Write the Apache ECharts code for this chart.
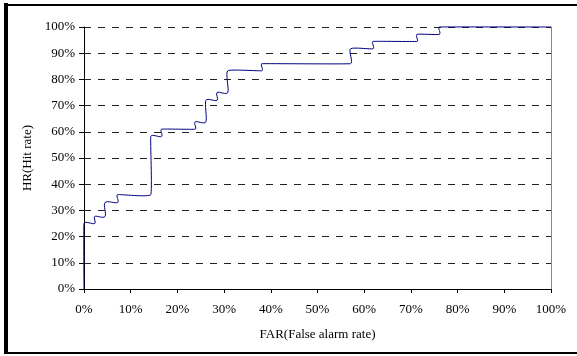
<!DOCTYPE html>
<html>
<head>
<meta charset="utf-8">
<script src="https://cdn.jsdelivr.net/npm/echarts@6/dist/echarts.min.js"></script>
<style>
  html, body { margin: 0; padding: 0; background: #fff; }
  #chart { width: 577px; height: 356px; }
</style>
</head>
<body>
<div id="chart"></div>
<script>
// ROC operating points: false alarm rate (%) and hit rate (%)
const farPoints = [0, 0, 2.3, 4.5, 7.2, 14.3, 16.6, 23.8, 26.1, 28.5, 30.8, 38.1, 57.1, 61.9, 71.3, 76.1, 100];
const hrPoints  = [0, 25, 27.7, 33, 36, 58.2, 61, 63.8, 72, 75, 83.3, 86, 91.7, 94.5, 97.2, 100, 100];

// Axis tick labels
const xTickLabels = ['0%', '10%', '20%', '30%', '40%', '50%', '60%', '70%', '80%', '90%', '100%'];
const yTickLabels = ['0%', '10%', '20%', '30%', '40%', '50%', '60%', '70%', '80%', '90%', '100%'];

// Staircase: hold the hit rate until the next false alarm rate, then rise
const curve = [[farPoints[0], hrPoints[0]]];
for (let i = 1; i < farPoints.length; i++) {
  if (farPoints[i] !== farPoints[i - 1]) curve.push([farPoints[i], hrPoints[i - 1]]);
  if (hrPoints[i] !== hrPoints[i - 1]) curve.push([farPoints[i], hrPoints[i]]);
}

// Smoothed staircase segment: cubic Bezier between neighbouring pixel points,
// tangent follows the chord of the neighbours, kept short so corners stay tight.
function tangentAt(pts, j) {
  const a = pts[Math.max(j - 1, 0)], b = pts[Math.min(j + 1, pts.length - 1)];
  const dx = b[0] - a[0], dy = b[1] - a[1];
  const len = Math.hypot(dx, dy) || 1;
  const p = pts[j];
  const dPrev = j > 0 ? Math.hypot(p[0] - a[0], p[1] - a[1]) : Infinity;
  const dNext = j < pts.length - 1 ? Math.hypot(b[0] - p[0], b[1] - p[1]) : Infinity;
  const reach = Math.min(0.3 * Math.min(dPrev, dNext), 3.2);
  return [dx / len * reach, dy / len * reach];
}

function renderSegment(params, api) {
  const i = params.dataIndex;
  if (i >= curve.length - 1) return null;
  const pts = [];
  for (let j = Math.max(i - 1, 0); j <= Math.min(i + 2, curve.length - 1); j++) pts.push(api.coord(curve[j]));
  const k = i === 0 ? 0 : 1;
  const p0 = pts[k], p1 = pts[k + 1];
  const t0 = tangentAt(pts, k), t1 = tangentAt(pts, k + 1);
  return {
    type: 'bezierCurve',
    shape: {
      x1: p0[0], y1: p0[1], x2: p1[0], y2: p1[1],
      cpx1: p0[0] + t0[0], cpy1: p0[1] + t0[1],
      cpx2: p1[0] - t1[0], cpy2: p1[1] - t1[1]
    },
    style: { stroke: '#000080', lineWidth: 1, fill: null }
  };
}

const serif = '"Liberation Serif", "DejaVu Serif", serif';
const chart = echarts.init(document.getElementById('chart'), null, { renderer: 'canvas' });

chart.setOption({
  animation: false,
  backgroundColor: '#fff',
  grid: { left: 84, right: 26, top: 27, bottom: 67, containLabel: false },
  xAxis: {
    type: 'value', min: 0, max: 100, interval: 10,
    name: 'FAR(False alarm rate)', nameLocation: 'middle', nameGap: 39,
    nameTextStyle: { fontFamily: serif, fontSize: 13, color: '#000' },
    axisLine: { show: true, onZero: false, lineStyle: { color: '#000', width: 1 } },
    axisTick: { show: true, inside: false, length: 4, lineStyle: { color: '#000' } },
    axisLabel: {
      margin: 14, fontFamily: serif, fontSize: 13, color: '#000',
      formatter: (v) => xTickLabels[Math.round(v / 10)]
    },
    splitLine: { show: false }
  },
  yAxis: [{
    type: 'value', min: 0, max: 100, interval: 10,
    name: 'HR(Hit rate)', nameLocation: 'middle', nameGap: 47, nameRotate: 90,
    nameTextStyle: { fontFamily: serif, fontSize: 13, color: '#000' },
    axisLine: { show: true, lineStyle: { color: '#000', width: 1 } },
    axisTick: { show: true, inside: false, length: 5, lineStyle: { color: '#000' } },
    axisLabel: {
      margin: 9, fontFamily: serif, fontSize: 13, color: '#000',
      formatter: (v) => yTickLabels[Math.round(v / 10)]
    },
    splitLine: { show: true, lineStyle: { color: '#222', width: 1, type: [7, 7] } }
  }, {
    type: 'value', min: 0, max: 100, interval: 10, position: 'right',
    axisLine: { show: true, lineStyle: { color: '#888', width: 1 } },
    axisTick: { show: false }, axisLabel: { show: false }, splitLine: { show: false }
  }],
  series: [{
    type: 'custom',
    data: curve,
    encode: { x: 0, y: 1 },
    renderItem: renderSegment,
    clip: false,
    z: 5
  }],
  graphic: [
    { type: 'rect', shape: { x: 4, y: 3, width: 4, height: 351 }, style: { fill: '#000' } },
    { type: 'rect', shape: { x: 4, y: 4, width: 573, height: 2 }, style: { fill: '#000' } },
    { type: 'rect', shape: { x: 4, y: 352, width: 573, height: 2 }, style: { fill: '#000' } }
  ]
});
</script>
</body>
</html>
